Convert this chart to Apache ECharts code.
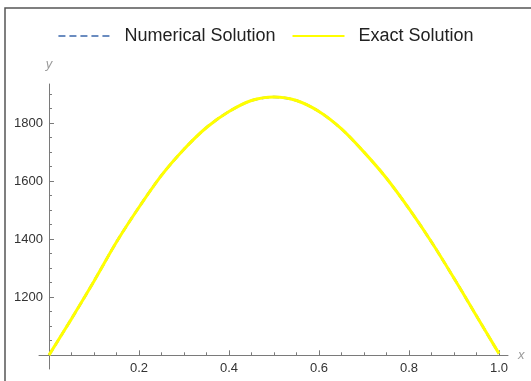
<!DOCTYPE html>
<html>
<head>
<meta charset="utf-8">
<script src="https://cdn.jsdelivr.net/npm/echarts@6/dist/echarts.min.js"></script>
<style>
html,body{margin:0;padding:0;background:#fff;}
#chart{width:531px;height:381px;}
</style>
</head>
<body>
<div id="chart"></div>
<script>
// Data
var xValues = [0, 0.05, 0.1, 0.15, 0.2, 0.25, 0.3, 0.35, 0.4, 0.45, 0.5, 0.55, 0.6, 0.65, 0.7, 0.75, 0.8, 0.85, 0.9, 0.95, 1.0];
var exactValues = [1000, 1125, 1255, 1390, 1510, 1620, 1710, 1785, 1840, 1878, 1890, 1878, 1840, 1780, 1700, 1610, 1505, 1390, 1265, 1135, 1005];
var numericalValues = [1000, 1125, 1255, 1390, 1510, 1620, 1710, 1785, 1840, 1878, 1890, 1878, 1840, 1780, 1700, 1610, 1505, 1390, 1265, 1135, 1005];
var seriesNames = ['Numerical Solution', 'Exact Solution'];
var xMajorTicks = [0, 0.2, 0.4, 0.6, 0.8, 1.0];
var xTickLabels = [0.2, 0.4, 0.6, 0.8, 1.0];
var xMinorTicks = [0.05, 0.1, 0.15, 0.25, 0.3, 0.35, 0.45, 0.5, 0.55, 0.65, 0.7, 0.75, 0.85, 0.9, 0.95];
var yMajorTicks = [1200, 1400, 1600, 1800];
var yTickLabels = [1200, 1400, 1600, 1800];
var yMinorTicks = [1050, 1100, 1150, 1250, 1300, 1350, 1450, 1500, 1550, 1650, 1700, 1750, 1850, 1900];

function pairs(xs, ys) { return xs.map(function (x, i) { return [x, ys[i]]; }); }

var FONT = 'Liberation Sans';
var AXIS_COLOR = '#7a7a7a';
var X_MIN = -0.0222, X_MAX = 1.02, Y_MIN = 952, Y_MAX = 1935;

var chart = echarts.init(document.getElementById('chart'), null, {renderer: 'canvas'});
chart.setOption({
  animation: false,
  backgroundColor: '#fff',
  graphic: [{
    type: 'rect', z: -10, silent: true,
    shape: {x: 5, y: 8, width: 700, height: 700},
    style: {fill: 'none', stroke: '#555', lineWidth: 1.5}
  }],
  legend: {
    data: seriesNames,
    left: 'center',
    top: 22,
    itemWidth: 52,
    itemHeight: 14,
    itemGap: 16,
    itemStyle: {opacity: 0},
    textStyle: {fontSize: 18, color: '#222', fontFamily: FONT, padding: [0, 0, 0, 9]}
  },
  grid: {left: 39, right: 23, top: 84, bottom: 12, containLabel: false},
  xAxis: [{
    type: 'value', min: X_MIN, max: X_MAX, position: 'bottom', offset: -13.7,
    name: 'x', nameLocation: 'end', nameGap: 10,
    nameTextStyle: {color: '#9a9a9a', fontStyle: 'italic', fontSize: 13, fontFamily: FONT, verticalAlign: 'middle'},
    axisLine: {show: true, onZero: false, lineStyle: {color: AXIS_COLOR, width: 1}},
    axisTick: {show: true, inside: true, length: 5, customValues: xMajorTicks, lineStyle: {color: AXIS_COLOR}},
    axisLabel: {show: true, customValues: xTickLabels, margin: 7, color: '#333', fontSize: 13, fontFamily: FONT,
      formatter: function (v) { return Number(v).toFixed(1); }},
    splitLine: {show: false}
  }, {
    type: 'value', min: X_MIN, max: X_MAX, position: 'bottom', offset: -13.7,
    axisLine: {show: false, onZero: false},
    axisTick: {show: true, inside: true, length: 3, customValues: xMinorTicks, lineStyle: {color: AXIS_COLOR}},
    axisLabel: {show: false},
    splitLine: {show: false}
  }],
  yAxis: [{
    type: 'value', min: Y_MIN, max: Y_MAX, position: 'left',
    name: 'y', nameLocation: 'end', nameGap: 13,
    nameTextStyle: {color: '#9a9a9a', fontStyle: 'italic', fontSize: 13, fontFamily: FONT, align: 'center'},
    axisLine: {show: true, onZero: true, onZeroAxisIndex: 0, lineStyle: {color: AXIS_COLOR, width: 1}},
    axisTick: {show: true, inside: true, length: 5, customValues: yMajorTicks, lineStyle: {color: AXIS_COLOR}},
    axisLabel: {show: true, customValues: yTickLabels, margin: -4, color: '#333', fontSize: 13, fontFamily: FONT,
      formatter: function (v) { return String(Math.round(v)); }},
    splitLine: {show: false}
  }, {
    type: 'value', min: Y_MIN, max: Y_MAX, position: 'left',
    axisLine: {show: false, onZero: true, onZeroAxisIndex: 0},
    axisTick: {show: true, inside: true, length: 3, customValues: yMinorTicks, lineStyle: {color: AXIS_COLOR}},
    axisLabel: {show: false},
    splitLine: {show: false}
  }],
  series: [{
    name: seriesNames[0], type: 'line', xAxisIndex: 0, yAxisIndex: 0,
    data: pairs(xValues, numericalValues), smooth: 0.3, symbol: 'none', z: 2,
    itemStyle: {color: '#5E81B5'},
    lineStyle: {color: '#6A8CC0', width: 2.5, type: [7, 4]}
  }, {
    name: seriesNames[1], type: 'line', xAxisIndex: 0, yAxisIndex: 0,
    data: pairs(xValues, exactValues), smooth: 0.3, symbol: 'none', z: 3,
    itemStyle: {color: '#FFFF00'},
    lineStyle: {color: '#FFFF00', width: 3}
  }]
});
</script>
</body>
</html>
